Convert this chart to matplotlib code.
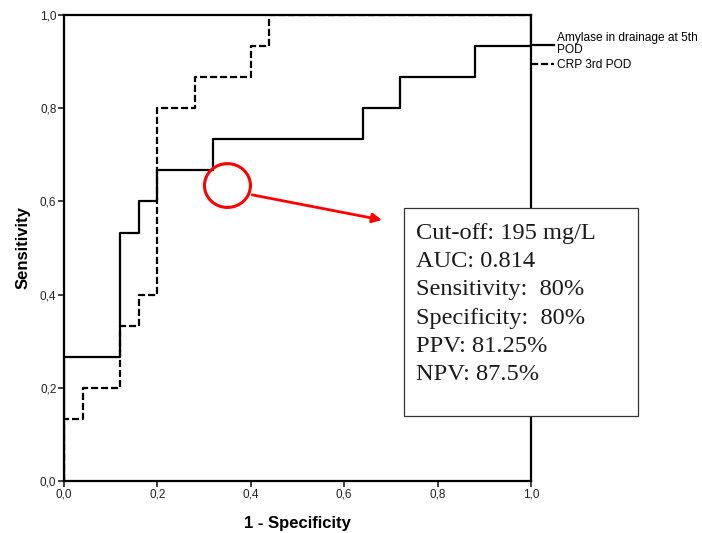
import matplotlib
matplotlib.use('Agg')
import matplotlib.pyplot as plt
from matplotlib.patches import Ellipse, Rectangle

# ROC curve vertices: 1 - specificity vs sensitivity
amylase_fpr = [0.0, 0.0, 0.12, 0.16, 0.20, 0.32, 0.64, 0.72, 0.88, 1.0]
amylase_tpr = [0.0, 0.267, 0.533, 0.600, 0.667, 0.733, 0.800, 0.867, 0.933, 1.0]
crp_fpr = [0.0, 0.0, 0.04, 0.12, 0.16, 0.20, 0.28, 0.40, 0.44, 1.0]
crp_tpr = [0.0, 0.133, 0.200, 0.333, 0.400, 0.800, 0.867, 0.933, 1.0, 1.0]

series_labels = ['Amylase in drainage at 5th\nPOD', 'CRP 3rd POD']
tick_values = [0.0, 0.2, 0.4, 0.6, 0.8, 1.0]
tick_labels = ['0,0', '0,2', '0,4', '0,6', '0,8', '1,0']

# highlighted cut-off and its summary
cutoff_point = (0.350, 0.634)
arrow_start = (0.403, 0.614)
arrow_tip = (0.681, 0.560)
summary_lines = ['Cut-off: 195 mg/L', 'AUC: 0.814', 'Sensitivity:  80%',
                 'Specificity:  80%', 'PPV: 81.25%', 'NPV: 87.5%']

plt.rcParams['font.family'] = 'Liberation Sans'

fig = plt.figure(figsize=(7.02, 5.33), dpi=100)
ax = fig.add_axes([0.0912, 0.0976, 0.6652, 0.8743])

ax.plot(amylase_fpr, amylase_tpr, drawstyle='steps-post', color='black',
        lw=1.6, label=series_labels[0])
ax.plot(crp_fpr, crp_tpr, drawstyle='steps-post', color='black', lw=1.6,
        dashes=(3.2, 1.3), label=series_labels[1])

ax.set_xlim(0, 1)
ax.set_ylim(0, 1)
ax.set_xticks(tick_values)
ax.set_xticklabels(tick_labels)
ax.set_yticks(tick_values)
ax.set_yticklabels(tick_labels)
ax.tick_params(length=4, width=1.2, labelsize=8.5, pad=1.5, color='#222222',
               labelcolor='#222222')
for s in ax.spines.values():
    s.set_linewidth(1.6)

ax.set_xlabel('1 - Specificity', fontsize=12, fontweight='bold', labelpad=11)
ax.set_ylabel('Sensitivity', fontsize=12, fontweight='bold', labelpad=7)

leg = ax.legend(loc='upper left', bbox_to_anchor=(1.0, 0.963), frameon=False,
                borderaxespad=0, borderpad=0, handlelength=1.95,
                handletextpad=0.2, labelspacing=0.25, fontsize=8.6)
for t in leg.get_texts():
    t.set_linespacing(1.0)

# red circle on the chosen cut-off with an arrow to the summary box
ax.add_patch(Ellipse(cutoff_point, 0.0985, 0.094, fill=False, ec='red',
                     lw=2.2, zorder=4))
ax.annotate('', xy=arrow_tip, xytext=arrow_start,
            arrowprops=dict(arrowstyle='-|>', color='red', lw=2,
                            mutation_scale=14, shrinkA=0, shrinkB=0))

box = Rectangle((0.5755, 0.2195), 0.3333, 0.3902, transform=fig.transFigure,
                facecolor='white', edgecolor='#333333', lw=0.9, zorder=5)
fig.patches.append(box)
fig.text(416 / 702, 1 - 223 / 533, '\n'.join(summary_lines),
         family='Liberation Serif', fontsize=17.6, va='top', ha='left',
         linespacing=1.45, color='#1a1a1a', zorder=6)

fig.savefig('out.png', dpi=100)
